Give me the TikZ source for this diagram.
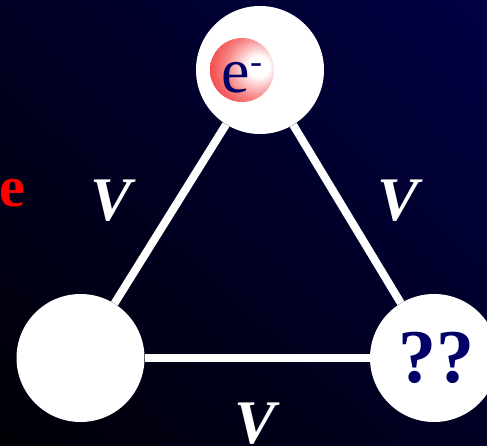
\documentclass[tikz,border=0pt]{standalone}
\usepackage{fontspec}
\setmainfont{Liberation Serif}
\usepackage{tikz}
\usetikzlibrary{positioning,shadings}
\definecolor{ink}{HTML}{000066}
\definecolor{ballred}{HTML}{F01818}
\definecolor{bgdark}{HTML}{000006}
\definecolor{bgblue}{HTML}{000044}
\definecolor{bgmid}{HTML}{000024}
\pgfdeclareradialshading{eball}{\pgfpoint{15bp}{3bp}}{%
  color(0bp)=(white); color(8bp)=(white); color(24bp)=(ballred!55!white);
  color(44bp)=(ballred); color(80bp)=(ballred)}
\tikzset{
  site/.style={circle, fill=white, minimum size=128pt, inner sep=0pt},
  bond/.style={draw=white, line width=8pt},
  ballnode/.style={circle, shading=eball, minimum size=64pt, inner sep=0pt},
  vlabel/.style={text=white, font=\fontsize{62}{62}\selectfont\bfseries\itshape, anchor=base},
  qlabel/.style={text=ink, font=\fontsize{76}{76}\selectfont\bfseries, inner sep=0pt}
}

\begin{document}
\begin{tikzpicture}[x=1pt,y=1pt]
        \useasboundingbox (0,0) rectangle (487,445);
        \clip (0,0) rectangle (487,445);
        \shade[lower left=bgdark, upper right=bgblue, upper left=bgmid, lower right=bgmid]
          (0,0) rectangle (487,445);
        % lattice sites
        \node[site] (top) at (260,375) {};
        \node[site] (left) at (80.5,87) {};
        \node[site] (right) at (434,87) {};
        \draw[bond] (left) -- (top);
        \draw[bond] (top) -- (right);
        \draw[bond] (left) -- (right);
        % electron on the top site
        \node[ballnode] (electron) at (242,375) {};
        \node[text=ink, font=\fontsize{64}{64}\selectfont, anchor=base] (charge) at (242,352)
          {e\raisebox{19pt}{\fontsize{36}{36}\selectfont -}};
        \node[qlabel] (unknown) at (436,87) {??};
        % hopping labels
        \node[vlabel] (vleft) at (111,225) {V};
        \node[vlabel] (vright) at (398,225) {V};
        \node[vlabel] (vbottom) at (255,2) {V};
        \node[text=red, font=\fontsize{58}{58}\selectfont\bfseries, anchor=base] (espin) at (12,238) {e};
      \end{tikzpicture}
\end{document}
